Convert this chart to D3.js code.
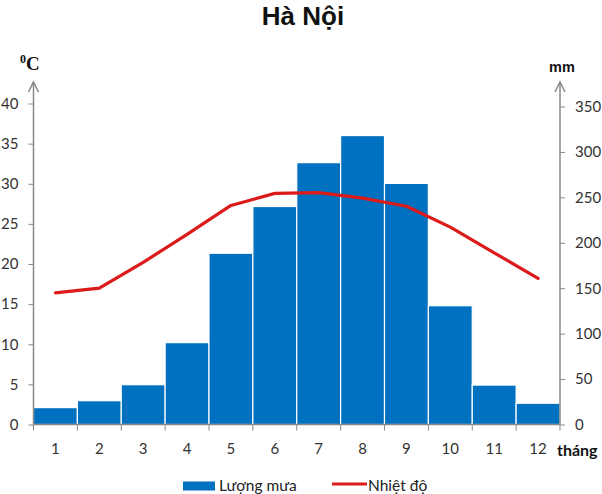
<!DOCTYPE html>
<html><head><meta charset="utf-8">
<script src="https://cdn.jsdelivr.net/npm/d3@7"></script>
<style>body{margin:0;background:#fff}svg{display:block}</style>
</head><body>
<svg id="c" width="602" height="494"></svg>
<script>
const months = ["1","2","3","4","5","6","7","8","9","10","11","12"];
const rainfall = [18.6, 26.2, 43.8, 90.1, 188.5, 239.9, 288.2, 318.0, 265.4, 130.7, 43.4, 23.4];
const temperature = [16.4, 17.0, 20.2, 23.7, 27.3, 28.8, 28.9, 28.2, 27.2, 24.6, 21.4, 18.2];
const tempTicks = [0,5,10,15,20,25,30,35,40];
const rainTicks = [0,50,100,150,200,250,300,350];

const svg = d3.select("#c");
const L = 33.5, R = 560, B = 424.5;
const font = "Lato, 'Open Sans', sans-serif";
const axisCol = "#888";

const x = d3.scaleBand().domain(months).range([L, R]).padding(0);
const yT = d3.scaleLinear().domain([0, 40]).range([B, 103.5]);
const yR = d3.scaleLinear().domain([0, 350]).range([B, 106.5]);

// bars
svg.append("g").selectAll("rect").data(months).join("rect")
  .attr("x", d => x(d)).attr("width", x.bandwidth())
  .attr("y", (d,i) => yR(rainfall[i])).attr("height", (d,i) => B - yR(rainfall[i]))
  .attr("fill", "#0070c0").attr("stroke", "#fff").attr("stroke-width", 1.2);

// line
const line = d3.line().x((d,i) => x(months[i]) + x.bandwidth()/2).y(d => yT(d));
svg.append("path").datum(temperature).attr("d", line)
  .attr("fill", "none").attr("stroke", "#dc1a1a").attr("stroke-width", 3.2)
  .attr("stroke-linejoin", "round").attr("stroke-linecap", "round");

// left axis
const gl = svg.append("g").attr("transform", `translate(${L},0)`)
  .call(d3.axisLeft(yT).tickValues(tempTicks).tickSize(5).tickPadding(10));
// right axis
const gr = svg.append("g").attr("transform", `translate(${R},0)`)
  .call(d3.axisRight(yR).tickValues(rainTicks).tickSize(5).tickPadding(10));
// x axis
const gx = svg.append("g").attr("transform", `translate(0,${B})`)
  .call(d3.axisBottom(x).tickSize(0).tickPadding(19));
[gl, gr, gx].forEach(g => {
  g.select(".domain").remove();
  g.selectAll("line").attr("stroke", axisCol);
  g.selectAll("text").attr("fill", "#333").style("font-family", font).style("font-size", "15px");
});
// x tick marks at band boundaries
const bounds = months.map(m => x(m)).concat([R]);
svg.append("g").selectAll("line").data(bounds).join("line")
  .attr("x1", d => d).attr("x2", d => d).attr("y1", B).attr("y2", B + 6)
  .attr("stroke", axisCol);

// axis lines with arrows
svg.append("line").attr("x1", L).attr("x2", R).attr("y1", B).attr("y2", B).attr("stroke", axisCol).attr("stroke-width", 1.3);
[L, R].forEach(ax => {
  svg.append("line").attr("x1", ax).attr("x2", ax).attr("y1", B).attr("y2", 82).attr("stroke", axisCol).attr("stroke-width", 1.5);
  svg.append("path").attr("d", `M${ax-5},${92} L${ax},${82} L${ax+5},${92}`)
    .attr("fill", "none").attr("stroke", axisCol).attr("stroke-width", 1.5);
});

// title
svg.append("text").attr("x", 303).attr("y", 25).attr("text-anchor", "middle")
  .style("font-family", "'Liberation Sans', Arial, sans-serif").style("font-weight", "bold").style("font-size", "26px")
  .attr("fill", "#111").text("Hà Nội");

// unit labels
const tc = svg.append("text").attr("x", 20).attr("y", 70)
  .style("font-family", "'Liberation Serif', 'Times New Roman', serif").style("font-weight", "bold").attr("fill", "#111");
tc.append("tspan").style("font-size", "12px").attr("dy", -7).text("0");
tc.append("tspan").style("font-size", "19px").attr("dy", 7).text("C");
svg.append("text").attr("x", 562).attr("y", 72).attr("text-anchor", "middle")
  .style("font-family", "'Liberation Sans', Arial, sans-serif").style("font-weight", "bold").style("font-size", "14.5px")
  .attr("fill", "#111").text("mm");
svg.append("text").attr("x", 557).attr("y", 456)
  .style("font-family", font).style("font-weight", "bold").style("font-size", "16px")
  .attr("fill", "#111").text("tháng");

// legend
svg.append("rect").attr("x", 183).attr("y", 481.5).attr("width", 32).attr("height", 9).attr("fill", "#0070c0");
svg.append("text").attr("x", 219).attr("y", 491).style("font-family", font).style("font-size", "15.5px").attr("fill", "#222").text("Lượng mưa");
svg.append("line").attr("x1", 332).attr("x2", 367).attr("y1", 484).attr("y2", 484).attr("stroke", "#dc1a1a").attr("stroke-width", 3);
svg.append("text").attr("x", 368).attr("y", 491).style("font-family", font).style("font-size", "15.5px").attr("fill", "#222").text("Nhiệt độ");
</script>
</body></html>
